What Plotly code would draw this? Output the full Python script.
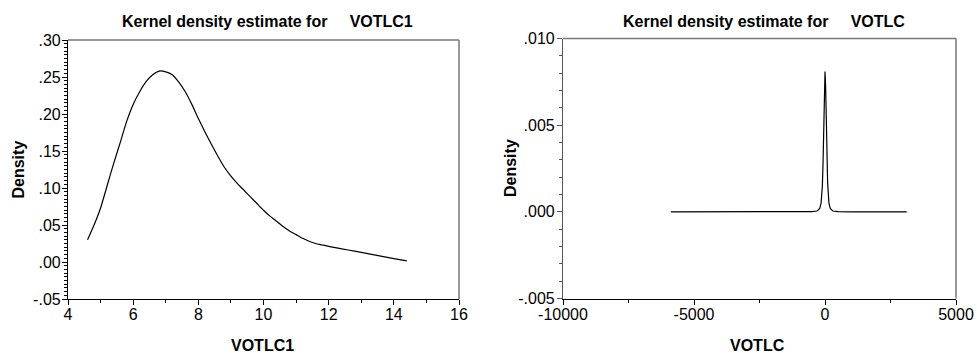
import plotly.graph_objects as go

# Kernel density estimate of VOTLC1
votlc1_x = [4.6, 4.8, 5.0, 5.2, 5.4, 5.6, 5.8, 6.0, 6.2, 6.4, 6.6, 6.8, 7.0, 7.2,
            7.4, 7.6, 7.8, 8.0, 8.2, 8.4, 8.6, 8.8, 9.0, 9.2, 9.4, 9.6, 9.8, 10.0,
            10.2, 10.4, 10.6, 10.8, 11.0, 11.2, 11.4, 11.6, 11.8, 12.0, 12.4, 12.8,
            13.2, 13.6, 14.0, 14.4]
votlc1_density = [0.030, 0.050, 0.073, 0.103, 0.133, 0.161, 0.190, 0.213, 0.230,
                  0.244, 0.253, 0.258, 0.257, 0.253, 0.243, 0.230, 0.213, 0.194,
                  0.176, 0.159, 0.143, 0.128, 0.116, 0.106, 0.097, 0.088, 0.079,
                  0.070, 0.062, 0.055, 0.048, 0.042, 0.037, 0.032, 0.028, 0.025,
                  0.023, 0.021, 0.0178, 0.0146, 0.0114, 0.0080, 0.0046, 0.0014]

# Kernel density estimate of VOTLC
votlc_x = [-5880, -4000, -2000, -1000, -500, -300, -200, -150, -100, -75, -50, -25,
           0, 25, 50, 75, 100, 150, 200, 300, 500, 1000, 2000, 3120]
votlc_density = [0.0, 0.0, 0.0, 0.0, 0.00001, 0.00005, 0.0002, 0.0005, 0.0015,
                 0.0028, 0.0048, 0.0070, 0.0081, 0.0072, 0.0052, 0.0031, 0.0017,
                 0.0005, 0.0002, 0.00005, 0.00001, 0.0, 0.0, 0.0]

# Tick labels
y1_ticks = [-0.05, 0.0, 0.05, 0.10, 0.15, 0.20, 0.25, 0.30]
y1_labels = ["-.05", ".00", ".05", ".10", ".15", ".20", ".25", ".30"]
x1_ticks = [4, 6, 8, 10, 12, 14, 16]
x1_labels = ["4", "6", "8", "10", "12", "14", "16"]
y2_ticks = [-0.005, 0.0, 0.005, 0.010]
y2_labels = ["-.005", ".000", ".005", ".010"]
x2_ticks = [-10000, -5000, 0, 5000]
x2_labels = ["-10000", "-5000", "0", "5000"]

W, H = 977, 353
FONT = "Liberation Sans, Arial, sans-serif"
NB = "\u00a0"

fig = go.Figure()
fig.add_trace(go.Scatter(x=votlc1_x, y=votlc1_density, mode="lines",
                         line=dict(color="black", width=1.2, shape="spline",
                                   smoothing=0.6),
                         xaxis="x", yaxis="y", showlegend=False))
fig.add_trace(go.Scatter(x=votlc_x, y=votlc_density, mode="lines",
                         line=dict(color="black", width=1.2),
                         xaxis="x2", yaxis="y2", showlegend=False))

tickfont = dict(family=FONT, size=16, color="black")


def axis(domain, rng, vals, labels, minor_dtick, anchor, standoff,
         linecolor="black"):
    return dict(
        domain=domain, range=rng, anchor=anchor, automargin=False,
        tickmode="array", tickvals=vals, ticktext=labels,
        ticks="outside", ticklen=5, tickwidth=1, tickcolor=linecolor,
        ticklabelstandoff=standoff,
        showline=True, linecolor=linecolor, linewidth=1.2,
        showgrid=False, zeroline=False, tickfont=tickfont,
        minor=dict(tickmode="linear", tick0=0, dtick=minor_dtick,
                   ticks="outside", ticklen=3, tickcolor=linecolor,
                   showgrid=False),
    )


left_x = [68 / W, 459 / W]
right_x = [563 / W, 956 / W]
left_y = [1 - 299 / H, 1 - 40 / H]
right_y = [1 - 298.5 / H, 1 - 38.5 / H]

fig.update_layout(
    width=W, height=H, autosize=False,
    margin=dict(l=0, r=0, t=0, b=0),
    paper_bgcolor="white", plot_bgcolor="white",
    xaxis=axis(left_x, [4, 16], x1_ticks, x1_labels, 1, "y", -4),
    yaxis=axis(left_y, [-0.05, 0.30], y1_ticks, y1_labels, 0.005, "x", -2),
    xaxis2=axis(right_x, [-10000, 5000], x2_ticks, x2_labels, 2500, "y2", -4),
    yaxis2=axis(right_y, [-0.005, 0.010], y2_ticks, y2_labels, 0.001, "x2", -1,
                linecolor="#555555"),
)

# Top and right frame edges
frame = dict(color="#777777", width=1.5)
for xr, yr in (("x domain", "y domain"), ("x2 domain", "y2 domain")):
    fig.add_shape(type="line", xref=xr, yref=yr, x0=0, x1=1, y0=1, y1=1, line=frame)
    fig.add_shape(type="line", xref=xr, yref=yr, x0=1, x1=1, y0=0, y1=1, line=frame)

bold = dict(family=FONT, size=16, color="black")


def label(text, px, py, angle=0):
    fig.add_annotation(text=f"<b>{text}</b>", x=px / W, y=1 - py / H,
                       xref="paper", yref="paper", showarrow=False,
                       xanchor="center", yanchor="middle", textangle=angle,
                       font=bold)


label("Kernel density estimate for" + NB * 5 + "VOTLC1", 267, 21)
label("Kernel density estimate for" + NB * 5 + "VOTLC", 764, 21)
label("VOTLC1", 262.5, 345)
label("VOTLC", 757.5, 345)
label("Density", 17.5, 170, -90)
label("Density", 510, 168, -90)

fig.write_html("out.html")
